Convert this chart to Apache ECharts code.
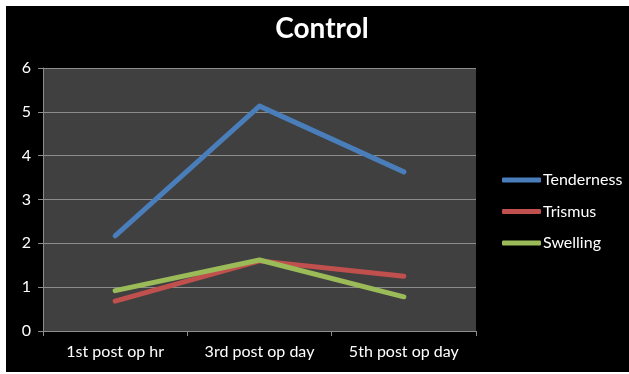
<!DOCTYPE html>
<html><head><meta charset="utf-8">
<script src="https://cdn.jsdelivr.net/npm/echarts@6/dist/echarts.min.js"></script>
<style>
html,body{margin:0;padding:0;background:#fff;width:629px;height:374px;overflow:hidden}
#c{position:absolute;left:6px;top:6px;width:623px;height:366px;background:#000}
</style></head><body>
<div id="c"></div>
<script>
const categories = ['1st post op hr', '3rd post op day', '5th post op day'];
const tenderness = [2.17, 5.13, 3.63];
const trismus = [0.68, 1.6, 1.25];
const swelling = [0.92, 1.62, 0.78];
const seriesNames = ['Tenderness', 'Trismus', 'Swelling'];
const colors = ['#4a7ebb', '#c0504d', '#9bbb59'];

const font = 'Lato, "Open Sans", sans-serif';
const chart = echarts.init(document.getElementById('c'), null, {renderer: 'canvas'});
const mk = (name, data, color) => ({
  name, type: 'line', data, showSymbol: false, symbol: 'none',
  lineStyle: {width: 5, color, cap: 'round', join: 'round'},
  itemStyle: {color}, animation: false
});
chart.setOption({
  backgroundColor: '#000',
  animation: false,
  title: {
    text: 'Control', left: 316, top: 9, textAlign: 'center', padding: 0,
    textStyle: {color: '#fff', fontSize: 28, fontWeight: 'bold', fontFamily: font}
  },
  legend: {
    orient: 'vertical', left: 496, top: 165, itemGap: 13.5, padding: 0,
    itemWidth: 39, itemHeight: 5, icon: 'roundRect',
    textStyle: {color: '#fff', fontSize: 16, fontFamily: font, lineHeight: 18, padding: [0, 0, 0, -3]},
    data: seriesNames
  },
  grid: {left: 37, top: 62, width: 433, height: 263, backgroundColor: '#404040', show: true, borderWidth: 0},
  xAxis: {
    type: 'category', data: categories, boundaryGap: true,
    axisLine: {lineStyle: {color: '#8c8c8c', width: 1}},
    axisTick: {show: true, length: 5, lineStyle: {color: '#8c8c8c'}},
    axisLabel: {color: '#fff', fontSize: 16, fontFamily: font, margin: 13}
  },
  yAxis: {
    type: 'value', min: 0, max: 6, interval: 1,
    axisLine: {show: true, lineStyle: {color: '#8c8c8c', width: 1}},
    axisTick: {show: true, length: 5, lineStyle: {color: '#8c8c8c'}},
    splitLine: {lineStyle: {color: '#8c8c8c', width: 1}},
    axisLabel: {color: '#fff', fontSize: 16, fontFamily: font, margin: 12}
  },
  series: [
    mk(seriesNames[0], tenderness, colors[0]),
    mk(seriesNames[1], trismus, colors[1]),
    mk(seriesNames[2], swelling, colors[2])
  ]
});
</script></body></html>
